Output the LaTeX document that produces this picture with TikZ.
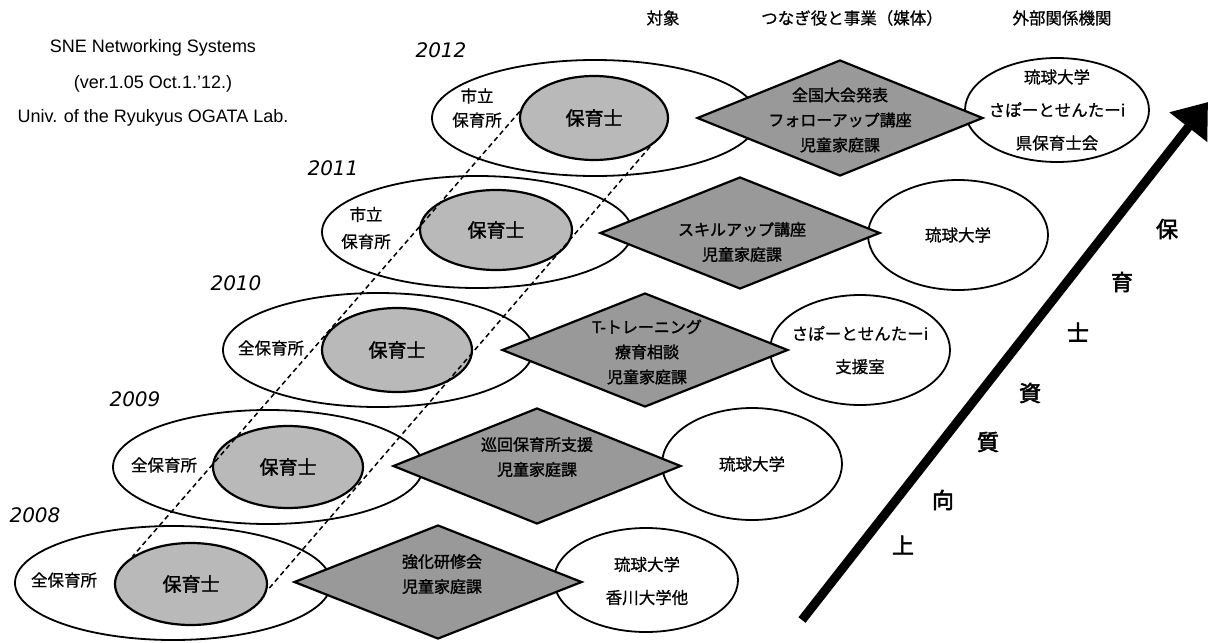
\documentclass[tikz,border=0pt]{standalone}
\usepackage{fontspec}
\setmainfont{Liberation Sans}
\newfontfamily\jp{Noto Sans CJK JP}[FakeBold=0.8]
\newfontfamily\jpmid{Noto Sans CJK JP}[FakeBold=1.6]
\newfontfamily\jpbold{Noto Sans CJK JP}[FakeBold=2.5]
\newfontfamily\yearfont{DejaVu Sans}
\usetikzlibrary{shapes.geometric,arrows.meta}
\tikzset{
  outer/.style={ellipse, draw, line width=1.8pt, fill=white, inner sep=0pt},
  inner/.style={ellipse, draw, line width=2.2pt, fill=gray!55, inner sep=0pt,
    font=\jpmid\fontsize{19}{21}\selectfont},
  dia/.style={diamond, draw, line width=2.2pt, fill=gray!80, inner sep=0pt},
  ext/.style={ellipse, draw, line width=1.8pt, fill=white, inner sep=0pt},
  jtxt/.style={font=\jp\fontsize{16.5}{33}\selectfont, align=center, inner sep=0pt},
  dtxt/.style={font=\jpmid\fontsize{16}{25}\selectfont, align=center, inner sep=0pt},
  year/.style={font=\yearfont\itshape\fontsize{20}{22}\selectfont, inner sep=0pt},
  head/.style={font=\jp\fontsize{16.5}{18}\selectfont, inner sep=0pt},
  eng/.style={font=\fontsize{18}{20}\selectfont, inner sep=0pt},
  vch/.style={font=\jpbold\fontsize{22}{24}\selectfont, inner sep=0pt},
  link/.style={line width=1.5pt, dash pattern=on 5pt off 3.5pt},
  bigarrow/.style={line width=9pt, -{Triangle[length=32pt,width=46pt]}}
}
\begin{document}
\begin{tikzpicture}[x=1pt,y=-1pt]
\useasboundingbox (0,0) rectangle (1209,642);

% header texts
\node[head] (h1) at (663,18) {対象};
\node[head] (h2) at (852,18) {つなぎ役と事業（媒体）};
\node[head] (h3) at (1062,18) {外部関係機関};

\node[eng] (e1) at (153,48) {SNE Networking Systems};
\node[eng] (e2) at (153,84) {(ver.1.05 Oct.1.'12.)};
\node[eng] (e3) at (153,118) {Univ. of the Ryukyus OGATA Lab.};

% ---- 2012
\node[year] (y12) at (441,50) {2012};
\node[outer, minimum width=326pt, minimum height=116pt] (o12) at (595,118) {};
\node[inner, minimum width=148pt, minimum height=84pt] (i12) at (594,118) {保育士};
\node[jtxt, font=\jp\fontsize{16.5}{24}\selectfont] (t12) at (477,108) {市立\\保育所};
\node[ext, minimum width=184pt, minimum height=104pt] (x12) at (1057,110) {};
\node[jtxt] (xt12) at (x12) {琉球大学\\さぽーとせんたーi\\県保育士会};
\node[dia, minimum width=286pt, minimum height=116pt] (d12) at (840,118) {};
\node[dtxt] (dt12) at (840,120) {全国大会発表\\フォローアップ講座\\児童家庭課};

% ---- 2011
\node[year] (y11) at (333,168) {2011};
\node[outer, minimum width=310pt, minimum height=112pt] (o11) at (477,232) {};
\node[inner, minimum width=152pt, minimum height=80pt] (i11) at (496,230) {保育士};
\node[jtxt, font=\jp\fontsize{16.5}{27}\selectfont] (t11) at (366,228) {市立\\保育所};
\node[ext, minimum width=180pt, minimum height=110pt] (x11) at (958,235) {};
\node[jtxt] (xt11) at (x11) {琉球大学};
\node[dia, minimum width=280pt, minimum height=112pt] (d11) at (740,233) {};
\node[dtxt] (dt11) at (742,242) {スキルアップ講座\\児童家庭課};

% ---- 2010
\node[year] (y10) at (236,283) {2010};
\node[outer, minimum width=310pt, minimum height=114pt] (o10) at (378,350) {};
\node[inner, minimum width=150pt, minimum height=84pt] (i10) at (397,350) {保育士};
\node[jtxt] (t10) at (271,348) {全保育所};
\node[ext, minimum width=180pt, minimum height=110pt] (x10) at (860,350) {};
\node[jtxt] (xt10) at (x10) {さぽーとせんたーi\\支援室};
\node[dia, minimum width=286pt, minimum height=114pt] (d10) at (645,350) {};
\node[dtxt] (dt10) at (647,352) {T-トレーニング\\療育相談\\児童家庭課};

% ---- 2009
\node[year] (y09) at (135,399) {2009};
\node[outer, minimum width=310pt, minimum height=114pt] (o09) at (268,467) {};
\node[inner, minimum width=150pt, minimum height=82pt] (i09) at (288,467) {保育士};
\node[jtxt] (t09) at (164,465) {全保育所};
\node[ext, minimum width=180pt, minimum height=112pt] (x09) at (752,464) {};
\node[jtxt] (xt09) at (x09) {琉球大学};
\node[dia, minimum width=288pt, minimum height=116pt] (d09) at (537,466) {};
\node[dtxt] (dt09) at (537,457) {巡回保育所支援\\児童家庭課};

% ---- 2008
\node[year] (y08) at (35,515) {2008};
\node[outer, minimum width=316pt, minimum height=114pt] (o08) at (173,583) {};
\node[inner, minimum width=152pt, minimum height=82pt] (i08) at (191,584) {保育士};
\node[jtxt] (t08) at (64,580) {全保育所};
\node[ext, minimum width=184pt, minimum height=104pt] (x08) at (646,580) {};
\node[jtxt] (xt08) at (647,581) {琉球大学\\香川大学他};
\node[dia, minimum width=288pt, minimum height=114pt] (d08) at (438,582) {};
\node[dtxt] (dt08) at (442,574) {強化研修会\\児童家庭課};

% dashed connecting lines
\draw[link] (i12.175) -- (i08.155);
\draw[link] (i12.-27) -- (i08.-5);

% big arrow
\coordinate (atail) at (802,620);
\coordinate (atip) at (1208,102);
\draw[bigarrow] (atail) -- (atip);

% vertical label
\node[vch] (v1) at (1167,229) {保};
\node[vch] (v2) at (1122,282) {育};
\node[vch] (v3) at (1078,332) {士};
\node[vch] (v4) at (1030,393) {資};
\node[vch] (v5) at (988,442) {質};
\node[vch] (v6) at (943,500) {向};
\node[vch] (v7) at (903,545) {上};
\end{tikzpicture}
\end{document}
